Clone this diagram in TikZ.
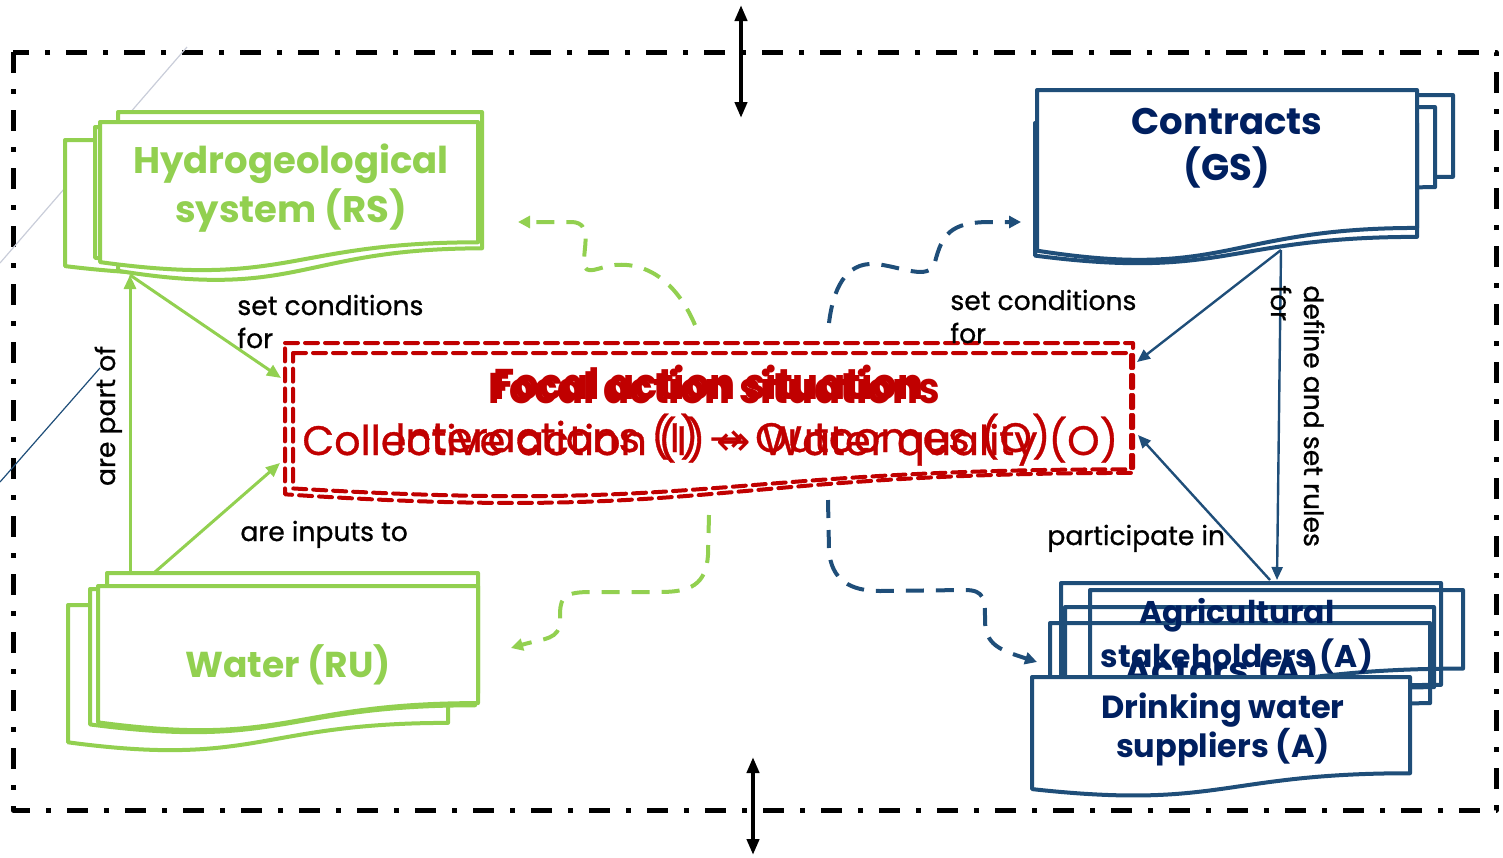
\documentclass[tikz,border=0pt]{standalone}
\usepackage{fontspec}
\setmainfont{Poppins}
\newfontfamily\medfont{Poppins}[FakeBold=0.8]
\newfontfamily\arrowfont{DejaVu Sans}
\usetikzlibrary{arrows.meta}
\definecolor{rsgreen}{HTML}{92D050}
\definecolor{gsblue}{HTML}{1F4E79}
\definecolor{gstext}{HTML}{002060}
\definecolor{fasred}{HTML}{C00000}
\definecolor{faintline}{HTML}{C9CDD9}
% document shape: x, y (top left), width, height
\newcommand{\docshape}[5][]{%
  \draw[#1] (#2,#3) -- ({#2+#4},#3) -- ({#2+#4},{#3+0.802*#5})
    .. controls ({#2+0.5*#4},{#3+0.802*#5}) and ({#2+0.5*#4},{#3+1.1075*#5}) .. (#2,{#3+0.934*#5}) -- cycle;}
\tikzset{
  frame/.style={line width=2.5pt, dash pattern=on 10.5pt off 8pt on 2.5pt off 8pt},
  rsdoc/.style={draw=rsgreen, line width=2pt, fill=white, line join=round},
  gsdoc/.style={draw=gsblue, line width=2pt, fill=white, line join=round},
  adoc/.style={draw=gsblue, line width=2pt, line join=round},
  fasdoc/.style={draw=fasred, line width=2pt, dash pattern=on 6.5pt off 3.5pt, line cap=round},
  rslink/.style={draw=rsgreen, line width=1.5pt, -{Triangle[length=7pt,width=6pt]}},
  gslink/.style={draw=gsblue, line width=1.2pt, -{Triangle[length=6.5pt,width=5.5pt]}},
  rsloop/.style={draw=rsgreen, line width=2pt, dash pattern=on 9pt off 6pt, -{Triangle[length=6pt,width=6pt]}},
  gsloop/.style={draw=gsblue, line width=2pt, dash pattern=on 9pt off 6pt, -{Triangle[length=6pt,width=6pt]}},
  bigarrow/.style={line width=2pt, {Triangle[length=8pt,width=6pt]}-{Triangle[length=8pt,width=6pt]}},
  lbl/.style={font=\medfont\fontsize{13.3}{16.5}\selectfont, align=left, inner sep=0pt},
  rstext/.style={text=rsgreen, font=\bfseries\fontsize{18.5}{24.5}\selectfont, align=center, inner sep=0pt},
  gstext/.style={text=gstext, font=\bfseries\fontsize{18.5}{23}\selectfont, align=center, inner sep=0pt},
  atext/.style={text=gstext, font=\bfseries\fontsize{15.7}{22}\selectfont, align=center, inner sep=0pt},
  fastext/.style={text=fasred, font=\medfont\fontsize{20.6}{25}\selectfont, inner sep=0pt, anchor=base west},
  fastitle/.style={fastext, font=\bfseries\fontsize{21.5}{25}\selectfont, xscale=0.9, transform shape},
}
\begin{document}
\begin{tikzpicture}[x=0.5pt, y=-0.5pt, line join=round]
\useasboundingbox (0,0) rectangle (1503,857);
% frame and stray lines
\draw[frame] (13,52) rectangle (1496,810);
\draw[faintline, line width=0.6pt] (187,47) -- (0,263);
\draw[gsblue, line width=0.6pt] (100,368) -- (0,482);
\draw[bigarrow] (741,5) -- (741,118);
\draw[bigarrow] (753,757) -- (753,855);

% resource system
\docshape[rsdoc]{65}{140}{385}{135}
\docshape[rsdoc]{95}{127}{380}{140}
\docshape[rsdoc]{118}{112}{364}{170}
\docshape[rsdoc]{100}{122}{378}{150}
\node[rstext, anchor=base] (rs) at (291,222) {Hydrogeological\\system (RS)};

% resource units
\docshape[rsdoc]{68}{605}{380}{147}
\docshape[rsdoc]{90}{589}{385}{145}
\docshape[rsdoc]{107}{573}{371}{150}
\docshape[rsdoc]{98}{586}{380}{146}
\node[rstext, font=\bfseries\fontsize{18}{24}\selectfont, anchor=base] (ru) at (288,677) {Water (RU)};

% governance system
\docshape[gsdoc]{1060}{95}{393}{102}
\docshape[gsdoc]{1050}{107}{385}{100}
\docshape[gsdoc]{1035}{123}{382}{142}
\docshape[gsdoc]{1037}{90}{380}{172}
\node[gstext, anchor=base] (gs) at (1227,180) {Contracts\\(GS)};

% actors
\docshape[adoc]{1061}{583}{380}{127}
\docshape[adoc]{1090}{590}{373}{98}
\docshape[adoc]{1065}{607}{369}{100}
\docshape[adoc]{1050}{623}{380}{100}
\node[atext, anchor=base] (agri) at (1237,667) {Agricultural\\stakeholders (A)};
\node[gstext, anchor=base] (actors) at (1222,683) {Actors (A)};
\docshape[gsdoc]{1032}{677}{378}{120}
\node[atext, font=\bfseries\fontsize{16}{19.5}\selectfont, anchor=base] (dws) at (1223,757) {Drinking water\\suppliers (A)};

% focal action situation
\docshape[fasdoc]{285}{343}{848}{162}
\docshape[fasdoc]{293}{353}{838}{145}
\node[fastitle] (fas1) at (488,403) {Focal action situations};
\node[fastitle] (fas2) at (493,399) {Focal action situation};
\node[fastext] (io1) at (302,455) {Collective action (I) {\arrowfont↔} Water quality (O)};
\node[fastext] (io2) at (395,452) {Interactions (I) {\arrowfont→} Outcomes (O)};

% anchor points
\coordinate (rs-foot) at (130,275);
\coordinate (ru-top) at (130,573);
\coordinate (ru-top2) at (155,572);
\coordinate (fas-w1) at (281,378);
\coordinate (fas-w2) at (280,463);
\coordinate (fas-e1) at (1137,362);
\coordinate (fas-e2) at (1138,435);
\coordinate (gs-foot) at (1281,250);
\coordinate (a-top) at (1277,580);
\coordinate (a-top2) at (1270,580);
\coordinate (fas-n1) at (695,325);
\coordinate (fas-n2) at (829,323);
\coordinate (fas-s1) at (709,515);
\coordinate (fas-s2) at (828,500);
\coordinate (rs-e) at (518,222);
\coordinate (gs-w) at (1021,222);
\coordinate (ru-e) at (511,648);
\coordinate (a-w) at (1037,662);

% links
\draw[rslink] (ru-top) -- (rs-foot);
\draw[rslink] (rs-foot) -- (fas-w1);
\draw[rslink] (ru-top2) -- (fas-w2);
\draw[gslink] (gs-foot) -- (fas-e1);
\draw[gslink] (gs-foot) -- (a-top);
\draw[gslink] (a-top2) -- (fas-e2);
\draw[rsloop] (fas-n1) .. controls (678,285) and (650,262) .. (615,265) .. controls (600,266) and (584,278) .. (584,262) .. controls (584,245) and (592,223) .. (572,222) -- (rs-e);
\draw[gsloop] (fas-n2) .. controls (833,290) and (845,262) .. (875,264) .. controls (900,266) and (930,282) .. (935,262) .. controls (942,235) and (950,222) .. (990,222) -- (gs-w);
\draw[rsloop] (fas-s1) -- (708,555) .. controls (706,585) and (690,592) .. (660,592) -- (590,592) .. controls (560,592) and (560,600) .. (560,620) .. controls (560,640) and (545,638) .. (ru-e);
\draw[gsloop] (fas-s2) -- (829,550) .. controls (831,580) and (850,591) .. (880,591) -- (965,590) .. controls (985,590) and (985,600) .. (985,620) .. controls (985,645) and (1000,650) .. (a-w);

% labels
\node[lbl, anchor=base west] (l-setrs) at (237,348) {set conditions\\for};
\node[lbl, anchor=base west] (l-inputs) at (240,541) {are inputs to};
\node[lbl, anchor=base, rotate=90] (l-part) at (115,416) {are part of};
\node[lbl, anchor=base west] (l-setgs) at (950,343) {set conditions\\for};
\node[lbl, anchor=base west] (l-part-in) at (1047,545) {participate in};
\node[lbl, anchor=base west, rotate=-90] (l-rules) at (1271,285) {define and set rules\\for};
\end{tikzpicture}
\end{document}
